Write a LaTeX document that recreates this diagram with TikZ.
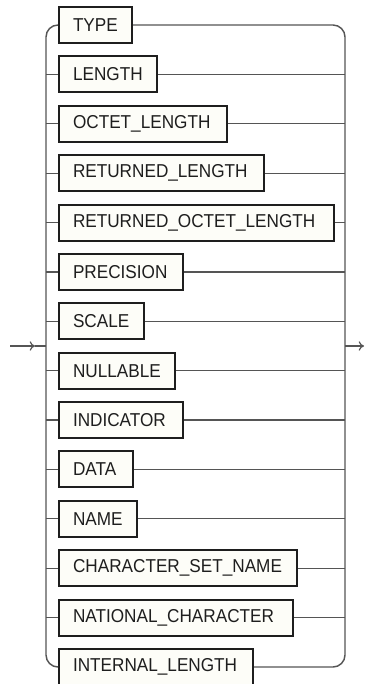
\documentclass[tikz,border=0pt]{standalone}
\usepackage{fontspec}
\setmainfont{Liberation Sans}[FakeStretch=0.92]
\usetikzlibrary{arrows.meta}
\definecolor{linec}{HTML}{555555}
\definecolor{boxc}{HTML}{1E1E1E}
\definecolor{boxfill}{HTML}{FDFDF8}
\tikzset{
  kwbox/.style={draw=boxc, fill=boxfill, line width=1.5pt, minimum height=27pt,
    inner xsep=10.5pt, inner ysep=0pt, align=left, anchor=west,
    font=\fontsize{14}{17}\selectfont, text=boxc},
  conn/.style={draw=linec, line width=0.9pt},
  rail/.style={draw=linec, line width=1.1pt, rounded corners=9pt},
}
\begin{document}
\begin{tikzpicture}[x=0.75pt, y=-0.75pt]
\useasboundingbox (0,0) rectangle (365,684);
\foreach \i/\lab/\w in {
  1/TYPE/73, 2/LENGTH/98, 3/OCTET\_LENGTH/168, 4/RETURNED\_LENGTH/205,
  5/RETURNED\_OCTET\_LENGTH/275, 6/PRECISION/124, 7/SCALE/85, 8/NULLABLE/116,
  9/INDICATOR/124, 10/DATA/74, 11/NAME/78, 12/CHARACTER\_SET\_NAME/238,
  13/NATIONAL\_CHARACTER/234, 14/INTERNAL\_LENGTH/194}{
  \pgfmathsetmacro\tw{(\w-28)*0.75}
  \pgfmathsetmacro\yy{25+(\i-1)*49.385}
  \node[kwbox, text width=\tw pt] (b\i) at (58,\yy) {\lab};
}
% rails
\coordinate (lt) at (46,25);
\coordinate (lb) at (46,667);
\coordinate (rt) at (345,25);
\coordinate (rb) at (345,667);
\draw[rail] (b1.west) -- (lt) -- (lb) -- (b14.west);
\draw[rail] (b1.east) -- (rt) -- (rb) -- (b14.east);
% branches
\foreach \i in {2,...,13}{
  \draw[conn] (b\i.west) -- (b\i.west -| lt);
  \draw[conn] (b\i.east) -- (b\i.east -| rt);
}
% entry and exit
\coordinate (in0) at (10,346);
\coordinate (inA) at (35,346);
\coordinate (inR) at (46,346);
\draw[conn, -{To[length=4pt,width=7pt]}] (in0) -- (inA);
\draw[conn] (inA) -- (inR);
\coordinate (outL) at (345,346);
\coordinate (outR) at (364,346);
\draw[conn, -{To[length=4pt,width=7pt]}] (outL) -- (outR);
\end{tikzpicture}
\end{document}
